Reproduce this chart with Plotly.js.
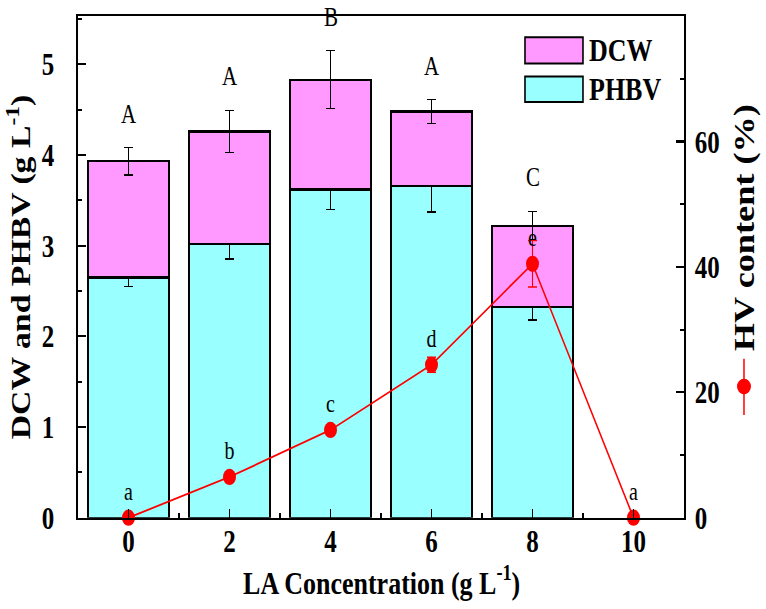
<!DOCTYPE html>
<html>
<head>
<meta charset="utf-8">
<script src="https://cdn.plot.ly/plotly-3.0.1.min.js"></script>
<style>
html,body{margin:0;padding:0;background:#fff;overflow:hidden;}
#wrap{width:766px;height:609px;overflow:hidden;}
#chart{width:766px;height:487px;transform:scale(1,1.2505);transform-origin:0 0;}
</style>
</head>
<body>
<div id="wrap"><div id="chart"></div></div>
<script>
// ---- data ----
var barX = [0, 2, 4, 6, 8];
var dcwTotal = [3.93, 4.26, 4.83, 4.48, 3.22];
var dcwErr = [0.15, 0.23, 0.32, 0.13, 0.16];
var phbv = [2.65, 3.02, 3.62, 3.66, 2.32];
var phbvErr = [0.10, 0.165, 0.22, 0.29, 0.14];
var barLetters = ['A', 'A', 'B', 'A', 'C'];

var hvX = [0, 2, 4, 6, 8, 10];
var hv = [0, 6.5, 14.0, 24.4, 40.5, 0];
var hvErr = [0, 0.6, 0.6, 1.2, 3.7, 0];
var hvLetters = ['a', 'b', 'c', 'd', 'e', 'a'];

var xTickVals = [0, 2, 4, 6, 8, 10];
var xTickText = ['0', '2', '4', '6', '8', '10'];

// ---- build ----
var serif = 'Liberation Serif, Times New Roman, serif';
var dcwSeg = dcwTotal.map(function (v, i) { return v - phbv[i]; });

var tracePHBV = {
  type: 'bar', x: barX, y: phbv, name: 'PHBV', width: 1.6,
  marker: { color: '#99FFFF', line: { color: '#000', width: 1.8 } },
  error_y: { type: 'data', array: phbvErr, visible: true, color: '#000', thickness: 1.1, width: 4.5 },
  showlegend: false, yaxis: 'y'
};
var traceDCW = {
  type: 'bar', x: barX, y: dcwSeg, name: 'DCW', width: 1.6,
  marker: { color: '#FF99FF', line: { color: '#000', width: 1.8 } },
  error_y: { type: 'data', array: dcwErr, visible: true, color: '#000', thickness: 1.1, width: 4.5 },
  showlegend: false, yaxis: 'y'
};
var traceHV = {
  type: 'scatter', mode: 'lines+markers+text', x: hvX, y: hv, yaxis: 'y2',
  line: { color: '#FF0000', width: 1.5 },
  marker: { color: '#FF0000', size: 13 },
  error_y: { type: 'data', array: hvErr, visible: true, color: '#FF0000', thickness: 1.1, width: 4.5 },
  text: hvLetters, textposition: 'top center',
  textfont: { family: serif, size: 20, color: '#000' },
  cliponaxis: false, showlegend: false
};

var annotations = barX.map(function (x, i) {
  return {
    x: x, y: dcwTotal[i] + dcwErr[i], xref: 'x', yref: 'y',
    text: barLetters[i], showarrow: false, xanchor: 'center', yanchor: 'bottom', yshift: 13,
    font: { family: serif, size: 21, color: '#000' }
  };
});
// x axis title
annotations.push({
  x: 0.5, y: -0.127, xref: 'paper', yref: 'paper', xanchor: 'center', yanchor: 'middle',
  text: 'LA Concentration (g L<sup>-1</sup>)', showarrow: false,
  font: { family: serif, size: 26, color: '#000', weight: 'bold' }
});
// right axis title
annotations.push({
  x: 1.1, y: 0.578, xref: 'paper', yref: 'paper', xanchor: 'center', yanchor: 'middle', textangle: -90,
  text: 'HV content (%)', showarrow: false,
  font: { family: serif, size: 29, color: '#000', weight: 'bold' }
});
// legend labels
annotations.push({
  x: 0.840, y: 0.932, xref: 'paper', yref: 'paper', xanchor: 'left', yanchor: 'middle', text: 'DCW',
  showarrow: false, font: { family: serif, size: 26, color: '#000', weight: 'bold' }
});
annotations.push({
  x: 0.840, y: 0.855, xref: 'paper', yref: 'paper', xanchor: 'left', yanchor: 'middle', text: 'PHBV',
  showarrow: false, font: { family: serif, size: 26, color: '#000', weight: 'bold' }
});

var shapes = [
  // legend swatches
  { type: 'rect', xref: 'paper', yref: 'paper', x0: 0.7376, x1: 0.8333, y0: 0.906, y1: 0.958,
    fillcolor: '#FF99FF', line: { color: '#000', width: 1.6 } },
  { type: 'rect', xref: 'paper', yref: 'paper', x0: 0.7376, x1: 0.8333, y0: 0.829, y1: 0.880,
    fillcolor: '#99FFFF', line: { color: '#000', width: 1.6 } },
  // line+marker symbol beside the right axis title
  { type: 'line', xref: 'paper', yref: 'paper', x0: 1.099, x1: 1.099, y0: 0.205, y1: 0.317,
    line: { color: '#FF0000', width: 1.5 } },
  { type: 'circle', xref: 'paper', yref: 'paper', x0: 1.0875, x1: 1.1105, y0: 0.246, y1: 0.277,
    fillcolor: '#FF0000', line: { color: '#FF0000', width: 0 } }
];

var tickFont = { family: serif, size: 25, color: '#000', weight: 'bold' };

var layout = {
  width: 766, height: 487,
  margin: { l: 78, r: 82, t: 12.8, b: 72.8, pad: 0 },
  paper_bgcolor: '#fff', plot_bgcolor: '#fff',
  barmode: 'stack', showlegend: false,
  xaxis: {
    range: [-1, 11], tickvals: xTickVals, ticktext: xTickText,
    ticks: 'inside', ticklen: 7, tickwidth: 1.8, tickcolor: '#000',
    minor: { ticks: 'inside', ticklen: 4, tickwidth: 1.8, tickcolor: '#000', dtick: 1, tick0: 1 },
    showline: true, linecolor: '#000', linewidth: 1.8, mirror: true,
    showgrid: false, zeroline: false, tickfont: tickFont, ticklabelstandoff: -4
  },
  yaxis: {
    range: [0, 5.53], dtick: 1, tick0: 0,
    ticks: 'inside', ticklen: 8, tickwidth: 1.8, tickcolor: '#000',
    minor: { ticks: 'inside', ticklen: 4, tickwidth: 1.8, tickcolor: '#000', dtick: 0.5 },
    showline: true, linecolor: '#000', linewidth: 1.8,
    showgrid: false, zeroline: false, tickfont: tickFont, ticklabelstandoff: 17,
    title: { text: 'DCW and PHBV (g L<sup>-1</sup>)', font: { family: serif, size: 27, color: '#000', weight: 'bold' }, standoff: 3 }
  },
  yaxis2: {
    overlaying: 'y', side: 'right', range: [0, 80], dtick: 20, tick0: 0,
    ticks: 'inside', ticklen: 8, tickwidth: 1.8, tickcolor: '#000',
    minor: { ticks: 'inside', ticklen: 4, tickwidth: 1.8, tickcolor: '#000', dtick: 10 },
    showline: true, linecolor: '#000', linewidth: 1.8,
    showgrid: false, zeroline: false, tickfont: tickFont, ticklabelstandoff: 4
  },
  annotations: annotations,
  shapes: shapes
};

Plotly.newPlot('chart', [tracePHBV, traceDCW, traceHV], layout, { displayModeBar: false, staticPlot: true });
</script>
</body>
</html>
